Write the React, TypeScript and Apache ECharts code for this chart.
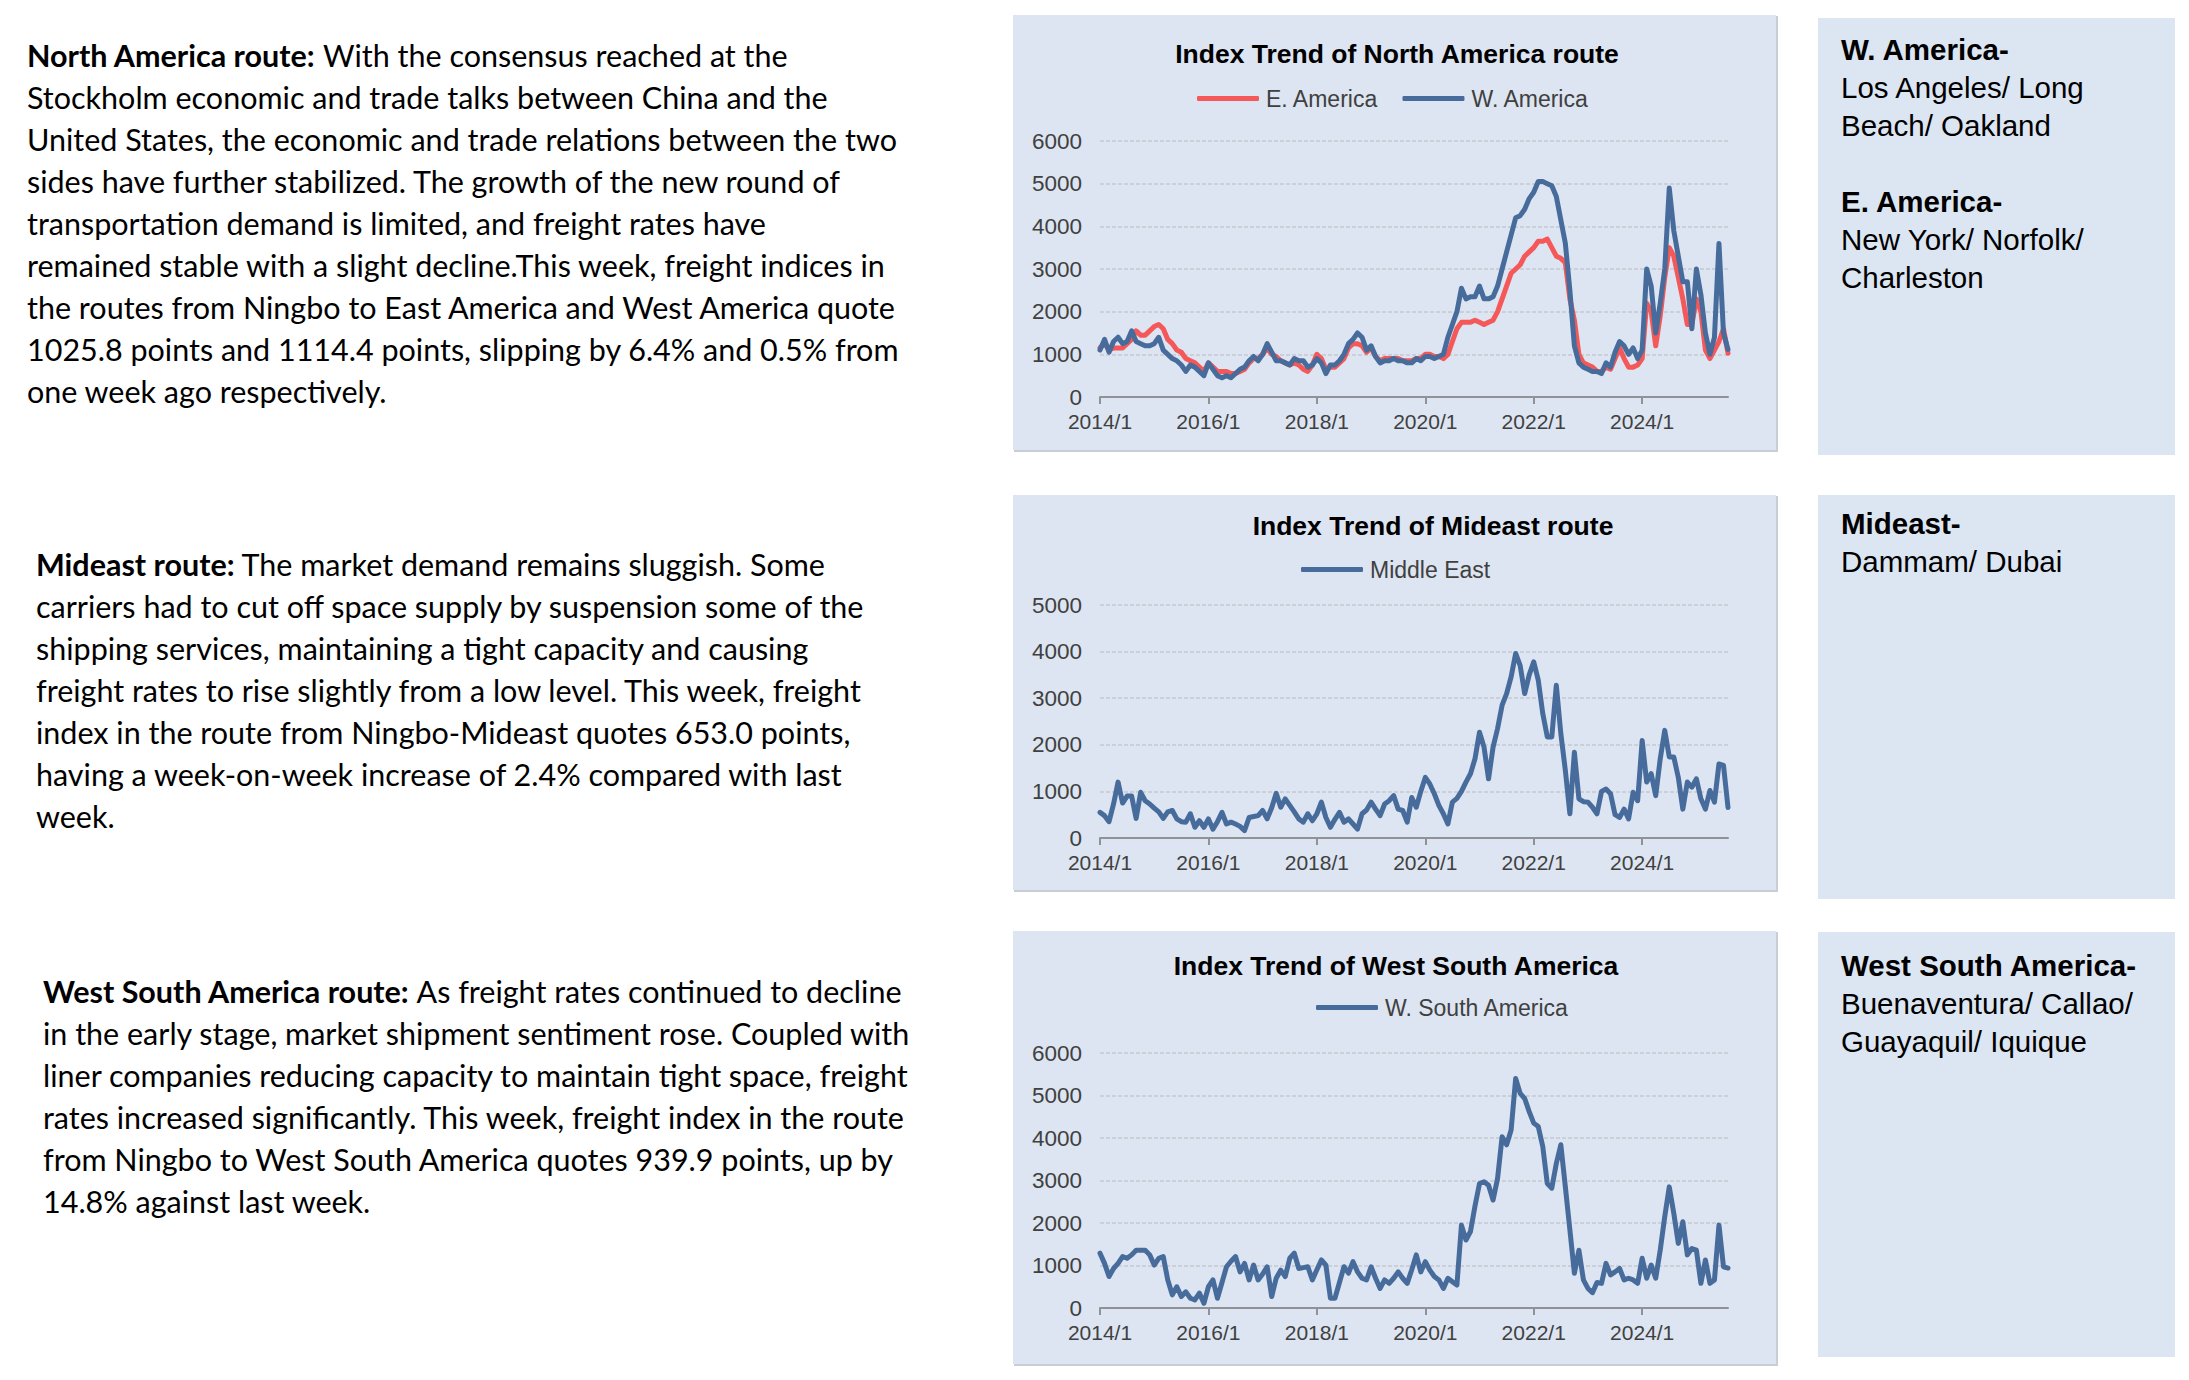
import React, { useEffect, useRef } from "react";
import * as echarts from "echarts";

// ---------- categories (monthly, 2014/1 .. 2025/8) ----------
const months: string[] = [];
for (let y = 2014; y <= 2025; y++) {
  for (let m = 1; m <= 12; m++) {
    if (y === 2025 && m > 8) break;
    months.push(`${y}/${m}`);
  }
}

// ---------- series values ----------
const eastAmerica = [
  1150, 1250, 1100, 1150, 1150, 1150, 1250, 1350, 1550, 1450,
  1450, 1550, 1650, 1700, 1600, 1350, 1250, 1100, 1050, 900,
  850, 800, 700, 600, 800, 700, 600, 600, 600, 550,
  550, 600, 650, 800, 900, 900, 1000, 1150, 1000, 950,
  850, 800, 750, 800, 750, 650, 600, 750, 1000, 900,
  650, 700, 700, 800, 900, 1150, 1250, 1250, 1200, 1050,
  1150, 950, 850, 900, 900, 900, 900, 850, 850, 850,
  900, 900, 1000, 1000, 950, 950, 900, 1000, 1300, 1600,
  1750, 1750, 1750, 1800, 1750, 1700, 1750, 1800, 2000, 2300,
  2600, 2900, 3000, 3100, 3300, 3400, 3500, 3650, 3650, 3700,
  3500, 3300, 3250, 3150, 2300, 1800, 1000, 800, 750, 700,
  600, 600, 700, 650, 900, 1150, 900, 700, 700, 750,
  900, 2200, 2000, 1200, 1900, 2800, 3500, 3300, 2800, 2300,
  1700, 1700, 2300, 2000, 1100, 900, 1100, 1300, 1600, 1025.8,
];

const westAmerica = [
  1100, 1350, 1050, 1300, 1400, 1250, 1300, 1550, 1300, 1250,
  1200, 1200, 1250, 1400, 1100, 1000, 900, 850, 750, 600,
  750, 700, 600, 500, 800, 650, 500, 450, 500, 450,
  550, 650, 700, 850, 950, 850, 1000, 1250, 1050, 850,
  850, 800, 750, 900, 850, 850, 700, 750, 900, 800,
  550, 750, 750, 850, 1000, 1250, 1350, 1500, 1400, 1100,
  1200, 950, 800, 850, 850, 900, 850, 850, 800, 800,
  900, 850, 950, 950, 900, 950, 1000, 1400, 1700, 2000,
  2550, 2300, 2350, 2350, 2600, 2300, 2300, 2350, 2600, 3000,
  3400, 3800, 4200, 4250, 4400, 4650, 4800, 5050, 5050, 5000,
  4950, 4700, 4150, 3600, 2500, 1200, 800, 700, 650, 600,
  600, 550, 800, 700, 1050, 1300, 1200, 1000, 1150, 900,
  1100, 3000, 2600, 1500, 2200, 3000, 4900, 3900, 3300, 2700,
  2700, 1600, 3000, 2400, 1500, 1000, 1400, 3600, 1500, 1114.4,
];

const middleEast = [
  550, 480, 350, 730, 1200, 750, 900, 900, 420, 980,
  800, 730, 640, 560, 420, 560, 590, 410, 350, 340,
  520, 230, 370, 230, 410, 190, 350, 550, 300, 340,
  300, 250, 160, 440, 460, 480, 590, 410, 650, 960,
  660, 840, 700, 560, 410, 340, 520, 370, 520, 770,
  440, 230, 400, 550, 340, 410, 300, 190, 520, 600,
  770, 620, 480, 730, 800, 910, 620, 590, 340, 870,
  660, 1000, 1300, 1160, 950, 700, 520, 300, 770, 850,
  1000, 1200, 1380, 1700, 2270, 1950, 1270, 1950, 2350, 2850,
  3100, 3460, 3960, 3700, 3100, 3500, 3780, 3390, 2670, 2170,
  2170, 3280, 2240, 1450, 520, 1840, 840, 780, 770, 660,
  520, 1000, 1050, 950, 500, 440, 620, 410, 980, 800,
  2090, 1200, 1380, 910, 1700, 2310, 1740, 1740, 1300, 620,
  1200, 1090, 1270, 840, 620, 1020, 770, 1590, 1560, 653.0,
];

const westSouthAmerica = [
  1290, 1050, 740, 930, 1050, 1210, 1170, 1250, 1360, 1360,
  1360, 1250, 1010, 1170, 1210, 660, 310, 500, 270, 380,
  230, 190, 350, 110, 500, 660, 230, 600, 970, 1100,
  1210, 850, 1050, 660, 1010, 660, 800, 970, 270, 700,
  890, 740, 1170, 1290, 930, 950, 970, 660, 900, 1130,
  1010, 230, 230, 600, 970, 820, 1090, 850, 700, 660,
  970, 700, 460, 660, 580, 700, 850, 700, 580, 900,
  1250, 850, 1090, 890, 740, 660, 460, 700, 620, 540,
  1950, 1600, 1800, 2400, 2930, 2970, 2890, 2540, 3050, 4030,
  3840, 4190, 5400, 5050, 4930, 4620, 4350, 4270, 3800, 2930,
  2820, 3400, 3840, 2850, 1840, 820, 1360, 660, 460, 360,
  600, 580, 1050, 780, 850, 930, 660, 700, 660, 580,
  1170, 700, 1010, 700, 1360, 2150, 2850, 2230, 1520, 2030,
  1250, 1400, 1360, 580, 1130, 580, 660, 1950, 970, 939.9,
];

// ---------- texts ----------
const chartTitles = [
  "Index Trend of North America route",
  "Index Trend of Mideast route",
  "Index Trend of West South America",
];

const block1Lead = "North America route:";
const block1Lines = [
  " With the consensus reached at the",
  "Stockholm economic and trade talks between China and the",
  "United States, the economic and trade relations between the two",
  "sides have further stabilized. The growth of the new round of",
  "transportation demand is limited, and freight rates have",
  "remained stable with a slight decline.This week, freight indices in",
  "the routes from Ningbo to East America and West America quote",
  "1025.8 points and 1114.4 points, slipping by 6.4% and 0.5% from",
  "one week ago respectively.",
];
const block2Lead = "Mideast route:";
const block2Lines = [
  " The market demand remains sluggish. Some",
  "carriers had to cut off space supply by suspension some of the",
  "shipping services, maintaining a tight capacity and causing",
  "freight rates to rise slightly from a low level. This week, freight",
  "index in the route from Ningbo-Mideast quotes 653.0 points,",
  "having a week-on-week increase of 2.4% compared with last",
  "week.",
];
const block3Lead = "West South America route:";
const block3Lines = [
  " As freight rates continued to decline",
  "in the early stage, market shipment sentiment rose. Coupled with",
  "liner companies reducing capacity to maintain tight space, freight",
  "rates increased significantly. This week, freight index in the route",
  "from Ningbo to West South America quotes 939.9 points, up by",
  "14.8% against last week.",
];

const box1 = [
  { t: "W. America-", b: true },
  { t: "Los Angeles/ Long", b: false },
  { t: "Beach/ Oakland", b: false },
  { t: "", b: false },
  { t: "E. America-", b: true },
  { t: "New York/ Norfolk/", b: false },
  { t: "Charleston", b: false },
];
const box2 = [
  { t: "Mideast-", b: true },
  { t: "Dammam/ Dubai", b: false },
];
const box3 = [
  { t: "West South America-", b: true },
  { t: "Buenaventura/ Callao/", b: false },
  { t: "Guayaquil/ Iquique", b: false },
];

const ARIAL = "'Liberation Sans', Arial, sans-serif";
const BODY = "Lato, 'Noto Sans', sans-serif";
const BLUE = "#476c9c";
const RED = "#f45858";
const PANEL = "#dce5f1";

export default function App() {
  const ref = useRef<HTMLDivElement>(null);

  useEffect(() => {
    if (!ref.current) return;
    const chart = echarts.init(ref.current, undefined, { renderer: "svg" });

    const bodySize = 30.5;
    const lineGap = 42;

    const makeBlock = (x: number, y0: number, lead: string, lines: string[]) => {
      const els: any[] = [];
      lines.forEach((ln, i) => {
        if (i === 0) {
          els.push({
            type: "text",
            x,
            y: y0,
            style: {
              text: `{b|${lead}}{n|${ln}}`,
              verticalAlign: "middle",
              rich: {
                b: { fontSize: bodySize, fontFamily: BODY, fontWeight: "bold", fill: "#000" },
                n: { fontSize: bodySize, fontFamily: BODY, fill: "#000" },
              },
            },
          });
        } else {
          els.push({
            type: "text",
            x,
            y: y0 + i * lineGap,
            style: {
              text: ln,
              fontSize: bodySize,
              fontFamily: BODY,
              fill: "#000",
              verticalAlign: "middle",
            },
          });
        }
      });
      return els;
    };

    const makeBox = (y: number, h: number, ty: number, items: { t: string; b: boolean }[]) => {
      const els: any[] = [
        { type: "rect", z: -10, shape: { x: 1818, y, width: 357, height: h }, style: { fill: "#dce6f2" } },
      ];
      items.forEach((it, i) => {
        if (!it.t) return;
        els.push({
          type: "text",
          x: 1841,
          y: ty + i * 38,
          style: {
            text: it.t,
            fontSize: 29.5,
            fontFamily: ARIAL,
            fontWeight: it.b ? "bold" : "normal",
            fill: "#000",
            verticalAlign: "middle",
          },
        });
      });
      return els;
    };

    const panel = (y: number, h: number) => [
      { type: "rect", z: -11, shape: { x: 1014, y: y + 1, width: 764, height: h }, style: { fill: "#c9ced6" } },
      { type: "rect", z: -10, shape: { x: 1013, y, width: 763, height: h - 1 }, style: { fill: PANEL } },
    ];

    const grids = [
      { left: 1100, top: 141, width: 628, height: 256 },
      { left: 1100, top: 605, width: 628, height: 233 },
      { left: 1100, top: 1053, width: 628, height: 255 },
    ];
    const yMax = [6000, 5000, 6000];

    const xAxes = grids.map((_, i) => ({
      type: "category",
      gridIndex: i,
      data: months,
      boundaryGap: false,
      axisLine: { show: true, lineStyle: { color: "#8f9398", width: 2 } },
      axisTick: { show: true, interval: 23, length: 7, lineStyle: { color: "#8f9398", width: 2 } },
      axisLabel: {
        interval: 23,
        margin: 14,
        fontSize: 21,
        color: "#404040",
        fontFamily: ARIAL,
      },
      splitLine: { show: false },
    }));

    const yAxes = grids.map((_, i) => ({
      type: "value",
      gridIndex: i,
      min: 0,
      max: yMax[i],
      interval: 1000,
      axisLine: { show: false },
      axisTick: { show: false },
      axisLabel: {
        margin: 18,
        fontSize: 22.5,
        color: "#404040",
        fontFamily: ARIAL,
        formatter: (v: number) => String(v),
      },
      splitLine: { show: true, lineStyle: { color: "#cbd0d8", width: 2, type: [4, 2] } },
    }));

    const lineSeries = (name: string, data: number[], color: string, idx: number) => ({
      name,
      type: "line",
      xAxisIndex: idx,
      yAxisIndex: idx,
      data,
      symbol: "none",
      showSymbol: false,
      lineStyle: { color, width: 5, cap: "round", join: "round" },
      itemStyle: { color },
      emphasis: { disabled: true },
    });

    const legendBase = {
      orient: "horizontal",
      padding: 0,
      itemWidth: 62,
      itemHeight: 5,
      itemGap: 24,
      icon: "roundRect",
      selectedMode: false,
      textStyle: { fontSize: 23, color: "#404040", fontFamily: ARIAL, padding: [0, 0, 0, 2] },
    };

    const titleBase = (text: string, cx: number, top: number) => ({
      text,
      left: cx,
      top,
      textAlign: "center",
      padding: 0,
      textStyle: { fontSize: 26.5, fontWeight: "bold", color: "#000", fontFamily: ARIAL },
    });

    chart.setOption({
      animation: false,
      backgroundColor: "#ffffff",
      title: [
        titleBase(chartTitles[0], 1397, 40),
        titleBase(chartTitles[1], 1433, 512),
        titleBase(chartTitles[2], 1396, 952),
      ],
      legend: [
        { ...legendBase, data: ["E. America", "W. America"], left: 1197, top: 87 },
        { ...legendBase, data: ["Middle East"], left: 1301, top: 558 },
        { ...legendBase, data: ["W. South America"], left: 1316, top: 996 },
      ],
      grid: grids,
      xAxis: xAxes,
      yAxis: yAxes,
      series: [
        lineSeries("E. America", eastAmerica, RED, 0),
        lineSeries("W. America", westAmerica, BLUE, 0),
        lineSeries("Middle East", middleEast, BLUE, 1),
        lineSeries("W. South America", westSouthAmerica, BLUE, 2),
      ],
      graphic: [
        ...panel(15, 436),
        ...panel(495, 396),
        ...panel(931, 434),
        ...makeBox(18, 437, 49, box1),
        ...makeBox(495, 404, 523, box2),
        ...makeBox(932, 425, 965, box3),
        ...makeBlock(27, 55, block1Lead, block1Lines),
        ...makeBlock(36, 564, block2Lead, block2Lines),
        ...makeBlock(43, 991, block3Lead, block3Lines),
      ],
    });

    return () => chart.dispose();
  }, []);

  return (
    <div
      ref={ref}
      style={{ position: "fixed", left: 0, top: 0, width: 2189, height: 1380, background: "#fff" }}
    />
  );
}
